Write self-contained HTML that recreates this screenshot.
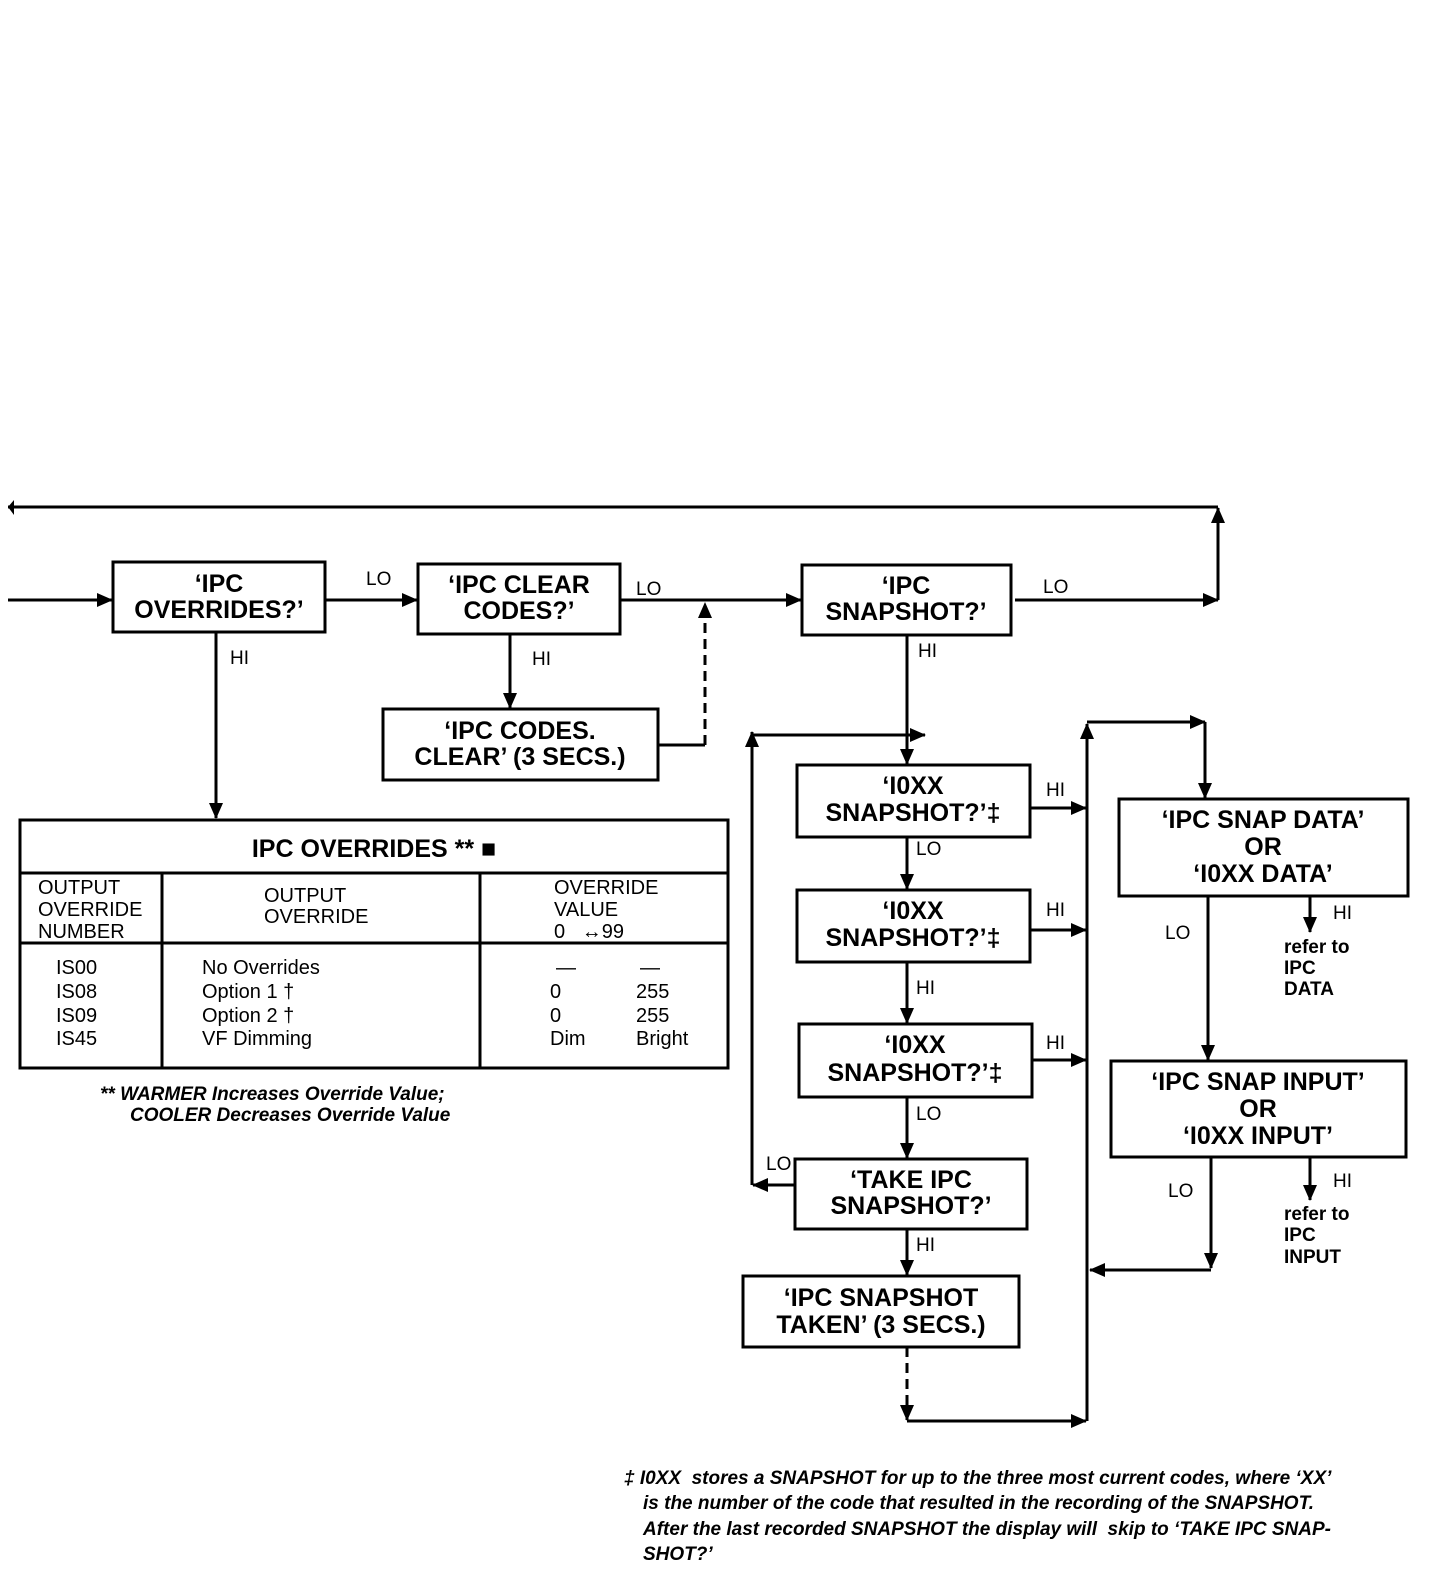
<!DOCTYPE html>
<html><head><meta charset="utf-8"><style>
body{margin:0;background:#fff}
svg{display:block}
text{font-family:"Liberation Sans",sans-serif;fill:#000}
.b{font-weight:bold;font-size:25px}
.l{font-size:19px}
.t{font-size:20px}
.i{font-style:italic;font-size:19px;font-weight:bold}
</style></head><body>
<svg width="1456" height="1596" viewBox="0 0 1456 1596" xmlns="http://www.w3.org/2000/svg">
<defs>
<marker id="a" markerWidth="10" markerHeight="10" refX="9" refY="5" orient="auto" markerUnits="userSpaceOnUse" viewBox="0 0 10 10"><path d="M0,0 L10,5 L0,10 z"/></marker>
<marker id="A" markerWidth="16" markerHeight="16" refX="15" refY="8" orient="auto" markerUnits="userSpaceOnUse" viewBox="0 0 16 16"><path d="M0,1 L16,8 L0,15 z"/></marker>
</defs>
<g fill="none" stroke="#000" stroke-width="3">
<!-- boxes -->
<rect x="113" y="562" width="212" height="70"/>
<rect x="418" y="564" width="202" height="70"/>
<rect x="383" y="709" width="275" height="71"/>
<rect x="802" y="565" width="209" height="70"/>
<rect x="797" y="765" width="233" height="72"/>
<rect x="797" y="890" width="233" height="72"/>
<rect x="799" y="1024" width="233" height="73"/>
<rect x="795" y="1159" width="232" height="70"/>
<rect x="743" y="1276" width="276" height="71"/>
<rect x="1119" y="799" width="289" height="97"/>
<rect x="1111" y="1061" width="295" height="96"/>
<!-- table -->
<rect x="20" y="820" width="708" height="248"/>
<line x1="20" y1="873" x2="728" y2="873"/>
<line x1="20" y1="943" x2="728" y2="943"/>
<line x1="162" y1="873" x2="162" y2="1068"/>
<line x1="480" y1="873" x2="480" y2="1068"/>
<!-- top line -->
<line x1="1218" y1="600" x2="1218" y2="508" marker-end="url(#A)"/>
<line x1="1218" y1="507" x2="8" y2="507"/>
<line x1="1015" y1="600" x2="1218" y2="600" marker-end="url(#A)"/>
<line x1="8" y1="600" x2="112" y2="600" marker-end="url(#A)"/>
<line x1="325" y1="600" x2="417" y2="600" marker-end="url(#A)"/>
<line x1="620" y1="600" x2="801" y2="600" marker-end="url(#A)"/>
<line x1="658" y1="745" x2="705" y2="745"/>
<line x1="705" y1="745" x2="705" y2="603" stroke-dasharray="10,6" marker-end="url(#A)"/>
<line x1="216" y1="632" x2="216" y2="818" marker-end="url(#A)"/>
<line x1="510" y1="634" x2="510" y2="708" marker-end="url(#A)"/>
<line x1="907" y1="635" x2="907" y2="764" marker-end="url(#A)"/>
<line x1="752" y1="735" x2="925" y2="735" marker-end="url(#A)"/>
<line x1="752" y1="1185" x2="752" y2="732" marker-end="url(#A)"/>
<line x1="795" y1="1185" x2="753" y2="1185" marker-end="url(#A)"/>
<line x1="907" y1="837" x2="907" y2="889" marker-end="url(#A)"/>
<line x1="907" y1="962" x2="907" y2="1023" marker-end="url(#A)"/>
<line x1="907" y1="1097" x2="907" y2="1158" marker-end="url(#A)"/>
<line x1="907" y1="1229" x2="907" y2="1275" marker-end="url(#A)"/>
<line x1="907" y1="1347" x2="907" y2="1420" stroke-dasharray="10,6" marker-end="url(#A)"/>
<line x1="907" y1="1421" x2="1086" y2="1421" marker-end="url(#A)"/>
<line x1="1087" y1="1421" x2="1087" y2="724" marker-end="url(#A)"/>
<line x1="1087" y1="722" x2="1205" y2="722" marker-end="url(#A)"/>
<line x1="1205" y1="722" x2="1205" y2="798" marker-end="url(#A)"/>
<line x1="1030" y1="808" x2="1086" y2="808" marker-end="url(#A)"/>
<line x1="1030" y1="930" x2="1086" y2="930" marker-end="url(#A)"/>
<line x1="1032" y1="1060" x2="1086" y2="1060" marker-end="url(#A)"/>
<line x1="1208" y1="896" x2="1208" y2="1060" marker-end="url(#A)"/>
<line x1="1310" y1="896" x2="1310" y2="932" marker-end="url(#A)"/>
<line x1="1211" y1="1157" x2="1211" y2="1268" marker-end="url(#A)"/>
<line x1="1211" y1="1270" x2="1090" y2="1270" marker-end="url(#A)"/>
<line x1="1310" y1="1157" x2="1310" y2="1200" marker-end="url(#A)"/>
</g>
<path d="M14,500 L8,507 L14,515 z" fill="#000"/>
<g class="b" text-anchor="middle">
<text x="219" y="592">‘IPC</text><text x="219" y="618">OVERRIDES?’</text>
<text x="519" y="593">‘IPC CLEAR</text><text x="519" y="619">CODES?’</text>
<text x="520" y="739">‘IPC CODES.</text><text x="520" y="765">CLEAR’ (3 SECS.)</text>
<text x="906" y="594">‘IPC</text><text x="906" y="620">SNAPSHOT?’</text>
<text x="913" y="794">‘I0XX</text><text x="913" y="821">SNAPSHOT?’‡</text>
<text x="913" y="919">‘I0XX</text><text x="913" y="946">SNAPSHOT?’‡</text>
<text x="915" y="1053">‘I0XX</text><text x="915" y="1081">SNAPSHOT?’‡</text>
<text x="911" y="1188">‘TAKE IPC</text><text x="911" y="1214">SNAPSHOT?’</text>
<text x="881" y="1306">‘IPC SNAPSHOT</text><text x="881" y="1333">TAKEN’ (3 SECS.)</text>
<text x="1263" y="828">‘IPC SNAP DATA’</text><text x="1263" y="855">OR</text><text x="1263" y="882">‘I0XX DATA’</text>
<text x="1258" y="1090">‘IPC SNAP INPUT’</text><text x="1258" y="1117">OR</text><text x="1258" y="1144">‘I0XX INPUT’</text>
<text x="374" y="857">IPC OVERRIDES ** ■</text>
</g>
<g class="l">
<text x="366" y="585">LO</text><text x="636" y="595">LO</text><text x="1043" y="593">LO</text>
<text x="230" y="664">HI</text><text x="532" y="665">HI</text><text x="918" y="657">HI</text>
<text x="1046" y="796">HI</text><text x="1046" y="916">HI</text><text x="1046" y="1049">HI</text>
<text x="916" y="855">LO</text><text x="916" y="994">HI</text><text x="916" y="1120">LO</text>
<text x="916" y="1251">HI</text><text x="766" y="1170">LO</text>
<text x="1165" y="939">LO</text><text x="1168" y="1197">LO</text>
<text x="1333" y="919">HI</text><text x="1333" y="1187">HI</text>
</g>
<g class="l" font-weight="bold">
<text x="1284" y="953" style="font-weight:bold">refer to</text><text x="1284" y="974" style="font-weight:bold">IPC</text><text x="1284" y="995" style="font-weight:bold">DATA</text>
<text x="1284" y="1220" style="font-weight:bold">refer to</text><text x="1284" y="1241" style="font-weight:bold">IPC</text><text x="1284" y="1263" style="font-weight:bold">INPUT</text>
</g>
<g class="t">
<text x="38" y="894">OUTPUT</text><text x="38" y="916">OVERRIDE</text><text x="38" y="938">NUMBER</text>
<text x="264" y="902">OUTPUT</text><text x="264" y="923">OVERRIDE</text>
<text x="554" y="894">OVERRIDE</text><text x="554" y="916">VALUE</text><text x="554" y="938">0 &#160;&#160;↔99</text>
<text x="56" y="974">IS00</text><text x="56" y="998">IS08</text><text x="56" y="1022">IS09</text><text x="56" y="1045">IS45</text>
<text x="202" y="974">No Overrides</text><text x="202" y="998">Option 1 †</text><text x="202" y="1022">Option 2 †</text><text x="202" y="1045">VF Dimming</text>
<text x="556" y="974">—</text><text x="640" y="974">—</text>
<text x="550" y="998">0</text><text x="636" y="998">255</text>
<text x="550" y="1022">0</text><text x="636" y="1022">255</text>
<text x="550" y="1045">Dim</text><text x="636" y="1045">Bright</text>
</g>
<g class="i">
<text x="100" y="1100">** WARMER Increases Override Value;</text>
<text x="130" y="1121">COOLER Decreases Override Value</text>
<text x="624" y="1484">‡ I0XX &#160;stores a SNAPSHOT for up to the three most current codes, where ‘XX’</text>
<text x="643" y="1509">is the number of the code that resulted in the recording of the SNAPSHOT.</text>
<text x="643" y="1535">After the last recorded SNAPSHOT the display will &#160;skip to ‘TAKE IPC SNAP-</text>
<text x="643" y="1560">SHOT?’</text>
</g>
</svg>
</body></html>
